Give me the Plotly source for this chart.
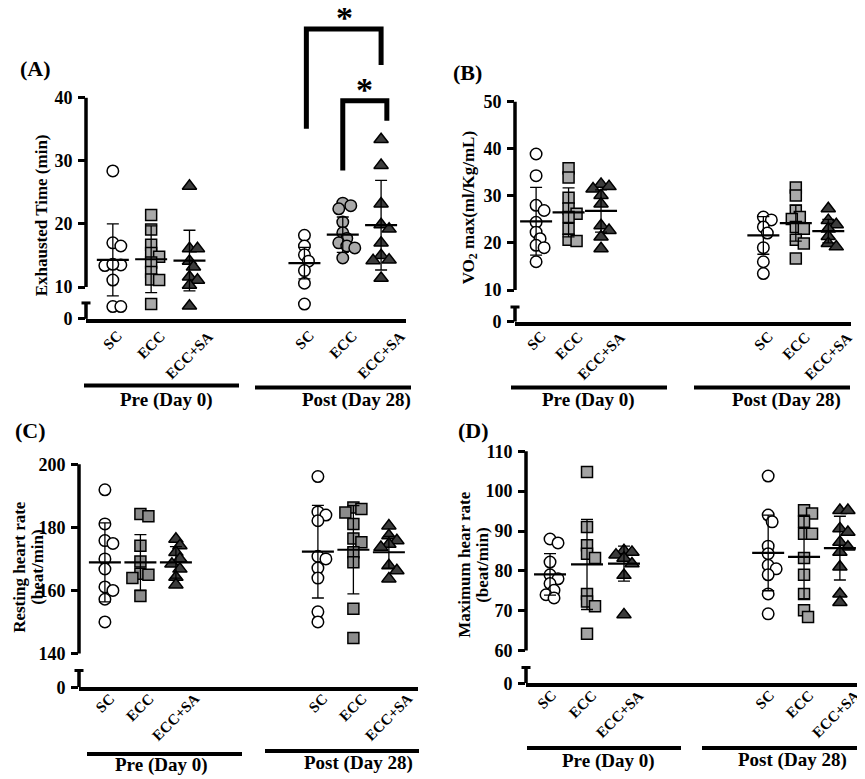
import math
import plotly.graph_objects as go

W, H = 865, 779
SERIF = 'Liberation Serif'

groups = ['SC', 'ECC', 'ECC+SA']
phases = ['Pre (Day 0)', 'Post (Day 28)']

# (A) exhausted time (min)
a_pre_sc = [28.4, 17.0, 16.5, 13.4, 13.5, 13.6, 11.1, 6.9, 6.9]
a_pre_ecc = [21.4, 19.1, 16.7, 15.4, 14.8, 13.9, 12.4, 11.2, 11.1, 7.3]
a_pre_sa = [26.0, 16.1, 16.1, 14.1, 13.2, 11.6, 11.1, 10.3, 7.0]
a_post_sc = [18.2, 16.5, 15.1, 14.1, 12.6, 10.6, 7.3]
a_post_ecc = [23.3, 22.9, 22.4, 20.3, 18.6, 17.7, 17.0, 16.5, 16.2, 14.6]
a_post_sa = [33.4, 29.3, 23.2, 19.9, 19.2, 17.0, 15.0, 14.3, 14.2, 11.4]
a_mean = [14.3, 14.4, 14.2, 13.8, 18.3, 19.8]
a_sd = [5.7, 5.3, 4.8, 2.5, 2.8, 7.1]

# (B) VO2 max
b_pre_sc = [38.9, 34.3, 28.0, 26.9, 24.4, 22.3, 20.9, 19.5, 19.0, 16.0]
b_pre_ecc = [35.9, 33.9, 29.6, 27.3, 26.2, 25.5, 23.0, 20.7, 20.4]
b_pre_sa = [32.5, 32.0, 31.5, 30.1, 28.3, 23.7, 22.7, 21.3, 18.8]
b_post_sc = [25.5, 24.9, 23.4, 22.1, 19.0, 16.0, 13.5]
b_post_ecc = [31.8, 30.1, 26.9, 25.5, 25.1, 23.4, 23.0, 20.7, 19.9, 16.7]
b_post_sa = [27.3, 24.8, 23.9, 23.0, 21.4, 19.9, 19.2]
b_mean = [24.6, 26.5, 26.8, 21.6, 24.2, 22.5]
b_sd = [7.2, 5.2, 4.5, 4.0, 3.8, 2.5]

# (C) resting heart rate
c_pre_sc = [191.9, 181.1, 175.8, 174.9, 170.0, 166.8, 161.1, 160.0, 157.2, 150.0]
c_pre_ecc = [184.2, 183.5, 174.2, 169.2, 165.3, 165.0, 163.9, 158.2]
c_pre_sa = [176.3, 174.2, 172.1, 170.0, 168.4, 166.8, 164.2, 161.8]
c_post_sc = [196.1, 184.9, 183.9, 182.1, 170.8, 170.0, 167.1, 163.9, 153.2, 150.0]
c_post_ecc = [186.3, 185.8, 184.7, 181.1, 176.5, 175.3, 172.1, 168.9, 154.2, 144.9]
c_post_sa = [180.5, 177.4, 175.8, 174.7, 173.7, 167.9, 166.3, 163.7]
c_mean = [168.9, 168.9, 168.9, 172.3, 172.9, 172.1]
c_sd = [12.5, 8.8, 5.0, 14.7, 14.0, 5.0]

# (D) maximum heart rate
d_pre_sc = [88.0, 87.0, 82.2, 79.0, 78.0, 76.8, 75.1, 74.0, 73.2]
d_pre_ecc = [104.8, 91.0, 86.4, 84.3, 83.2, 74.2, 72.3, 71.1, 64.2]
d_pre_sa = [85.1, 84.7, 84.0, 83.2, 81.8, 78.9, 69.0]
d_post_sc = [103.8, 94.0, 92.3, 86.2, 84.3, 81.4, 80.5, 79.0, 74.2, 69.2]
d_post_ecc = [95.2, 94.4, 92.3, 89.3, 89.3, 83.2, 79.0, 74.2, 70.1, 68.4]
d_post_sa = [95.2, 95.2, 90.6, 89.7, 87.2, 86.0, 84.7, 81.0, 74.2, 72.1]
d_mean = [79.1, 81.6, 81.8, 84.5, 83.5, 85.7]
d_sd = [5.2, 11.3, 4.4, 9.5, 10.5, 8.0]


def ty(y):
    # page y (as measured on the target picture) -> figure pixel
    return y * 1.0141 - 11


def fx(x):
    return x / W


def fy(y):
    return 1 - ty(y) / H


def bold(size):
    return dict(family=SERIF, size=size, color='black', weight='bold')


def swarm(vals, ppx, ppy, step=4.0, mind=7.0):
    # simple column-scatter spread, worked out in pixels
    placed = []
    offs = [0.0] * len(vals)
    for k in sorted(range(len(vals)), key=lambda j: -vals[j]):
        c = 0.0
        for n in range(40):
            c = ((n + 1) // 2) * step * (1 if n % 2 == 1 else -1)
            if all(math.hypot(c - q, (vals[k] - v) * ppy) >= mind for q, v in placed):
                break
        placed.append((c, vals[k]))
        offs[k] = c / ppx
    return offs


panels = [
    dict(tag='(A)', tagxy=(27, 68),
         data=[a_pre_sc, a_pre_ecc, a_pre_sa, a_post_sc, a_post_ecc, a_post_sa],
         mean=a_mean, sd=a_sd, ticks=[10, 20, 30, 40],
         xpx=(78, 398), xr=(0.3, 8.65), pos=[1, 2, 3, 6, 7, 8],
         cal=(10, 287, 40, 97), bot=319, cap=303, top=20,
         post_ecc='circle', gray='#a9a9a9',
         title=['Exhausted Time (min)'], titlex=[33], titley=215, lab_top=325, lab_dx=0,
         bars=[(76, 231, 386), (247, 403, 388)], grp=[(158, 400), (348, 400)]),
    dict(tag='(B)', tagxy=(460, 72),
         data=[b_pre_sc, b_pre_ecc, b_pre_sa, b_post_sc, b_post_ecc, b_post_sa],
         mean=b_mean, sd=b_sd, ticks=[10, 20, 30, 40, 50],
         xpx=(507, 843), xr=(0.35, 10.7), pos=[1, 2, 3, 8, 9, 10],
         cal=(10, 290, 50, 101), bot=322, cap=307, top=95,
         post_ecc='square', gray='#a9a9a9',
         title=['VO<sub>2</sub> max(ml/Kg/mL)'], titlex=[462], titley=207, lab_top=326,
         lab_dx=0,
         bars=[(503, 659, 388), (686, 842, 388)], grp=[(580, 400), (778, 400)]),
    dict(tag='(C)', tagxy=(22, 431),
         data=[c_pre_sc, c_pre_ecc, c_pre_sa, c_post_sc, c_post_ecc, c_post_sa],
         mean=c_mean, sd=c_sd, ticks=[140, 160, 180, 200],
         xpx=(71, 410), xr=(0.27, 9.82), pos=[1, 2, 3, 7, 8, 9],
         cal=(140, 655, 200, 465), bot=689, cap=672, top=455,
         post_ecc='square', gray='#8c8c8c',
         title=['Resting heart rate', '(beat/min)'], titlex=[12, 30], titley=568,
         lab_top=689, lab_dx=0,
         bars=[(79, 234, 756), (257, 411, 753)], grp=[(153, 767), (350, 765)]),
    dict(tag='(D)', tagxy=(466, 431),
         data=[d_pre_sc, d_pre_ecc, d_pre_sa, d_post_sc, d_post_ecc, d_post_sa],
         mean=d_mean, sd=d_sd, ticks=[60, 70, 80, 90, 100, 110],
         xpx=(518, 860), xr=(0.35, 9.6), pos=[1, 2, 3, 6.9, 7.87, 8.84],
         cal=(60, 652, 110, 452), bot=685, cap=669, top=445,
         post_ecc='square', gray='#a3a3a3',
         title=['Maximum hear rate', '(beat/min)'], titlex=[457, 475], titley=566,
         lab_top=686, lab_dx=-4,
         bars=[(519, 673, 750), (694, 850, 750)], grp=[(600, 763), (784, 762)]),
]

DARK = '#3c3c3c'

fig = go.Figure()
shapes = []
annotations = []
axes = {}

for i, p in enumerate(panels, start=1):
    xa = 'x' if i == 1 else f'x{i}'
    ya = 'y' if i == 1 else f'y{i}'
    lo_v, lo_px, hi_v, hi_px = p['cal']
    lo_px, hi_px = ty(lo_px), ty(hi_px)
    bot, top, cap = ty(p['bot']), ty(p['top']), ty(p['cap'])
    ppy = (lo_px - hi_px) / (hi_v - lo_v)
    y0 = lo_v - (bot - lo_px) / ppy
    y1 = hi_v + (hi_px - top) / ppy
    ycap = lo_v - (cap - lo_px) / ppy
    ppx = (p['xpx'][1] - p['xpx'][0]) / (p['xr'][1] - p['xr'][0])

    symbols = ['circle', 'square', 'triangle-up', 'circle', p['post_ecc'], 'triangle-up']
    fills = ['white', p['gray'], DARK, 'white', p['gray'], DARK]
    sizes = {'circle': 11.5, 'square': 11, 'triangle-up': 12.5}

    for k, vals in enumerate(p['data']):
        offs = swarm(vals, ppx, ppy)
        fig.add_trace(go.Scatter(
            x=[p['pos'][k] + o for o in offs], y=vals, xaxis=xa, yaxis=ya,
            mode='markers', hoverinfo='y',
            marker=dict(symbol=symbols[k], size=sizes[symbols[k]], color=fills[k],
                        line=dict(color='black', width=1.5)),
        ))

    # mean +- SD
    fig.add_trace(go.Scatter(
        x=p['pos'], y=p['mean'], xaxis=xa, yaxis=ya, mode='markers',
        marker=dict(size=1, color='rgba(0,0,0,0)'), hoverinfo='skip',
        error_y=dict(type='data', array=p['sd'], color='black', thickness=1.3, width=6),
    ))
    hw = 16 / ppx
    mx, my = [], []
    for c, m in zip(p['pos'], p['mean']):
        mx += [c - hw, c + hw, None]
        my += [m, m, None]
    fig.add_trace(go.Scatter(x=mx, y=my, xaxis=xa, yaxis=ya, mode='lines',
                             line=dict(color='black', width=2.2), hoverinfo='skip'))

    axes['xaxis' if i == 1 else f'xaxis{i}'] = dict(
        domain=[fx(p['xpx'][0]), fx(p['xpx'][1])], range=list(p['xr']), anchor=ya,
        showline=True, linewidth=3.5, linecolor='black', showticklabels=False,
        ticks='', showgrid=False, zeroline=False)
    axes['yaxis' if i == 1 else f'yaxis{i}'] = dict(
        domain=[1 - bot / H, 1 - top / H], range=[y0, y1], anchor=xa,
        showline=False, ticks='outside', ticklen=7, tickwidth=3, tickcolor='black',
        tickmode='array', tickvals=p['ticks'] + [y0],
        ticktext=[str(t) for t in p['ticks']] + ['0'],
        tickfont=bold(18), ticklabelstandoff=2,
        showgrid=False, zeroline=False)

    # broken y axis line
    ax_x = fx(p['xpx'][0])
    line = dict(color='black', width=3.5)
    shapes.append(dict(type='line', xref='paper', yref=ya, x0=ax_x, x1=ax_x,
                       y0=lo_v, y1=hi_v, line=line))
    shapes.append(dict(type='line', xref='paper', yref=ya, x0=ax_x, x1=ax_x,
                       y0=y0, y1=ycap, line=line))
    shapes.append(dict(type='line', xref='paper', yref=ya,
                       x0=fx(p['xpx'][0] - 4.5), x1=fx(p['xpx'][0] + 4.5),
                       y0=ycap, y1=ycap, line=dict(color='black', width=3)))

    # category labels
    for k, c in enumerate(p['pos']):
        annotations.append(dict(
            xref=xa, yref='paper', x=c, y=fy(p['lab_top']), text=groups[k % 3],
            textangle=-45, xanchor='center', yanchor='top', showarrow=False,
            xshift=p['lab_dx'], font=bold(15)))

    # phase bars
    for (bx0, bx1, by), (tx, tyy), name in zip(p['bars'], p['grp'], phases):
        shapes.append(dict(type='line', xref='paper', yref='paper',
                           x0=fx(bx0), x1=fx(bx1), y0=fy(by), y1=fy(by),
                           line=dict(color='black', width=4)))
        annotations.append(dict(xref='paper', yref='paper', x=fx(tx), y=fy(tyy),
                                text=name, showarrow=False, font=bold(19),
                                xanchor='center', yanchor='middle'))

    annotations.append(dict(xref='paper', yref='paper', x=fx(p['tagxy'][0]),
                            y=fy(p['tagxy'][1]), text=p['tag'], showarrow=False,
                            font=bold(22), xanchor='center', yanchor='middle'))
    for txt, tx in zip(p['title'], p['titlex']):
        annotations.append(dict(xref='paper', yref='paper', x=fx(tx),
                                y=fy(p['titley']), text=txt, textangle=-90,
                                showarrow=False, font=bold(17),
                                xanchor='center', yanchor='middle'))

# significance brackets on (A)
brackets = [(6.05, 8.0, 128, 28, 64, 7.04, 16), (7.0, 8.15, 170, 100, 120, 7.58, 89)]
a = panels[0]
a_ppy = (ty(a['cal'][1]) - ty(a['cal'][3])) / (a['cal'][2] - a['cal'][0])


def a_val(py_):
    return a['cal'][2] + (ty(a['cal'][3]) - ty(py_)) / a_ppy


for bl, br, pbl, ptop, pbr, sx, sy in brackets:
    ybl, ytop, ybr = a_val(pbl), a_val(ptop), a_val(pbr)
    shapes.append(dict(type='path', xref='x', yref='y',
                       path=f'M {bl},{ybl} L {bl},{ytop} L {br},{ytop} L {br},{ybr}',
                       line=dict(color='black', width=5)))
    annotations.append(dict(xref='x', yref='paper', x=sx, y=fy(sy), text='*',
                            showarrow=False, font=bold(34),
                            xanchor='center', yanchor='middle'))

fig.update_layout(
    width=W, height=H, margin=dict(l=0, r=0, t=0, b=0),
    paper_bgcolor='white', plot_bgcolor='white', showlegend=False,
    shapes=shapes, annotations=annotations, **axes,
)

fig.write_html('out.html')
